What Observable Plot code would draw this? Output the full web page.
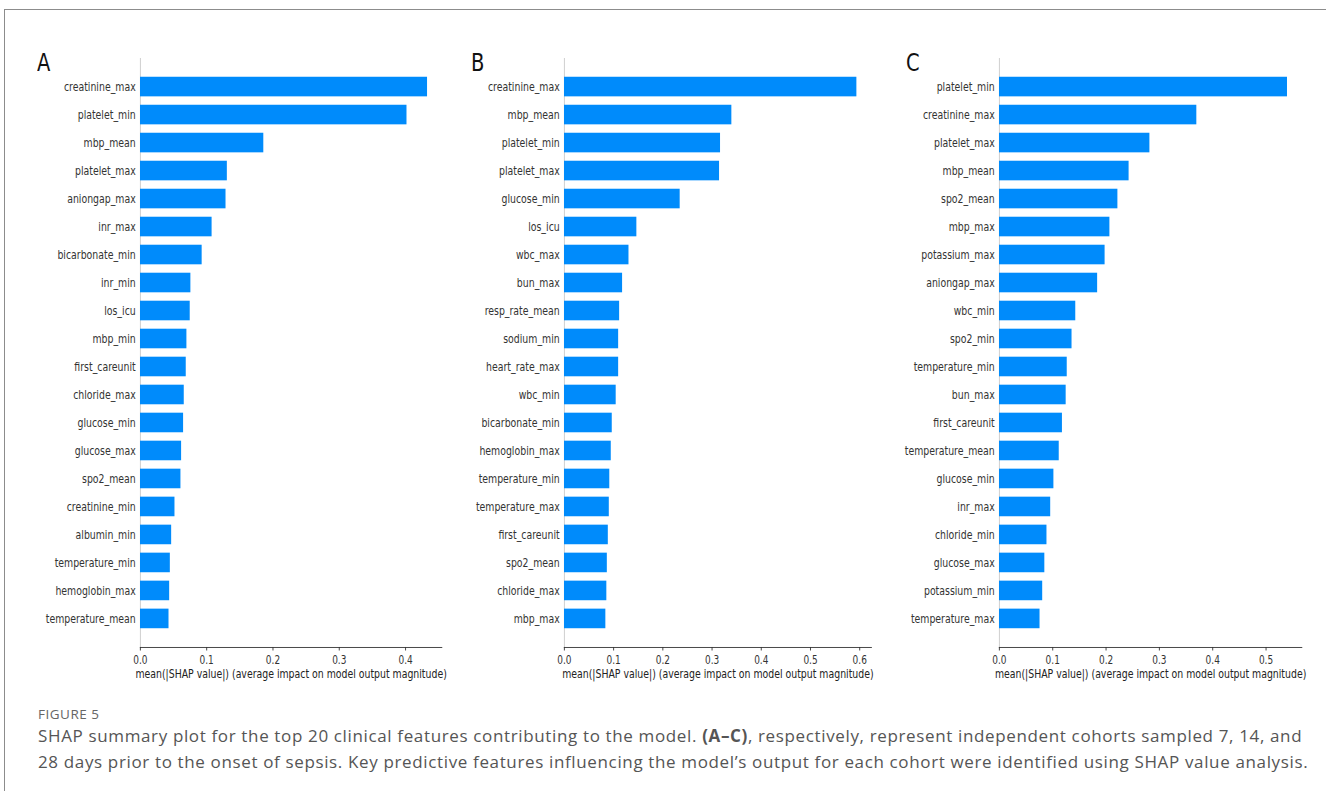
<!DOCTYPE html>
<html>
<head>
<meta charset="utf-8">
<script src="https://cdn.jsdelivr.net/npm/d3@7"></script>
<script src="https://cdn.jsdelivr.net/npm/@observablehq/plot@0.6"></script>
<style>
  html, body { margin: 0; padding: 0; background: #fff; }
  body { width: 1326px; height: 791px; position: relative; overflow: hidden; }
  #frame { position: absolute; left: 4px; top: 9px; width: 1340px; height: 800px;
           border: 1.5px solid #8c8c8c; box-sizing: border-box; }
  .panel { position: absolute; top: 40px; transform-origin: 0 0; }
  .panel svg { max-width: none; display: block; }
  .letter { position: absolute; top: 48px; font-family: "DejaVu Sans", sans-serif;
            font-size: 25px; color: #111; transform-origin: 0 0; }
  #fig { position: absolute; left: 38px; top: 705px; font-family: "Open Sans", sans-serif;
         font-size: 13.5px; letter-spacing: 0.5px; color: #666; }
  #caption { position: absolute; left: 38px; top: 723px; font-family: "Open Sans", sans-serif;
             font-size: 17px; letter-spacing: 0.64px; line-height: 26px; color: #555; white-space: nowrap; }
</style>
</head>
<body>
<div id="frame"></div>
<div id="charts"></div>
<div id="fig">FIGURE 5</div>
<div id="caption">SHAP summary plot for the top 20 clinical features contributing to the model. <b>(A–C)</b>, respectively, represent independent cohorts sampled 7, 14, and<br>28 days prior to the onset of sepsis. Key predictive features influencing the model’s output for each cohort were identified using SHAP value analysis.</div>
<script>
// Mean |SHAP| per feature, top 20 features for each cohort (7, 14, 28 days)
const featuresA = ["creatinine_max", "platelet_min", "mbp_mean", "platelet_max", "aniongap_max",
  "inr_max", "bicarbonate_min", "inr_min", "los_icu", "mbp_min", "first_careunit", "chloride_max",
  "glucose_min", "glucose_max", "spo2_mean", "creatinine_min", "albumin_min", "temperature_min",
  "hemoglobin_max", "temperature_mean"];
const valuesA = [0.433, 0.402, 0.186, 0.131, 0.129, 0.108, 0.093, 0.076, 0.075, 0.070, 0.069, 0.066,
  0.065, 0.062, 0.061, 0.052, 0.047, 0.045, 0.044, 0.043];

const featuresB = ["creatinine_max", "mbp_mean", "platelet_min", "platelet_max", "glucose_min",
  "los_icu", "wbc_max", "bun_max", "resp_rate_mean", "sodium_min", "heart_rate_max", "wbc_min",
  "bicarbonate_min", "hemoglobin_max", "temperature_min", "temperature_max", "first_careunit",
  "spo2_mean", "chloride_max", "mbp_max"];
const valuesB = [0.594, 0.340, 0.317, 0.315, 0.235, 0.147, 0.131, 0.118, 0.112, 0.110, 0.110, 0.105,
  0.097, 0.095, 0.092, 0.091, 0.089, 0.087, 0.086, 0.084];

const featuresC = ["platelet_min", "creatinine_max", "platelet_max", "mbp_mean", "spo2_mean",
  "mbp_max", "potassium_max", "aniongap_max", "wbc_min", "spo2_min", "temperature_min", "bun_max",
  "first_careunit", "temperature_mean", "glucose_min", "inr_max", "chloride_min", "glucose_max",
  "potassium_min", "temperature_max"];
const valuesC = [0.540, 0.370, 0.282, 0.243, 0.222, 0.207, 0.198, 0.184, 0.143, 0.136, 0.127, 0.125,
  0.118, 0.112, 0.102, 0.096, 0.089, 0.085, 0.081, 0.076];

const panelLetters = ["A", "B", "C"];
const xTitle = "mean(|SHAP value|) (average impact on model output magnitude)";

// The figure is drawn horizontally condensed; plots are laid out in unscaled units
const S = 0.78;
const LEFT = 135, RIGHT = 12;       // screen px beside the plot area
const H = 650, MT = 18, MB = 43;

const panels = [
  {names: featuresA, values: valuesA, x0: 140.3, x1: 441.7, letterX: 37},
  {names: featuresB, values: valuesB, x0: 564, x1: 871, letterX: 471},
  {names: featuresC, values: valuesC, x0: 999.3, x1: 1301.7, letterX: 906}
];

const host = document.getElementById("charts");

panels.forEach((p, i) => {
  const data = p.names.map((name, k) => ({name, value: p.values[k]}));
  const xmax = d3.max(p.values) * 1.05;
  const ticks = d3.range(0, Math.floor(xmax * 10 + 1e-9) + 1).map(t => t / 10);
  const widthU = (p.x1 - p.x0 + LEFT + RIGHT) / S;

  const chart = Plot.plot({
    width: widthU,
    height: H,
    marginTop: MT,
    marginBottom: MB,
    marginLeft: LEFT / S,
    marginRight: RIGHT / S,
    style: {fontFamily: "DejaVu Sans, sans-serif", fontSize: "12px", color: "#333", background: "transparent"},
    x: {domain: [0, xmax]},
    y: {domain: p.names, paddingInner: 0.3, paddingOuter: 0.67, round: false},
    marks: [
      Plot.ruleX([0], {stroke: "#cccccc", strokeWidth: 1.2}),
      Plot.barX(data, {x: "value", y: "name", fill: "#008bfb"}),
      Plot.frame({anchor: "bottom", stroke: "#333", strokeWidth: 1}),
      Plot.axisX({ticks, tickFormat: d3.format(".1f"), tickSize: 3.5, tickPadding: 5,
                  fontSize: 11.5, label: null, stroke: "#333", fill: "#333"}),
      Plot.axisY({tickSize: 0, tickPadding: 6, fontSize: 12, label: null, fill: "#333"}),
      Plot.text([xTitle], {frameAnchor: "bottom", dy: 31, fontSize: 12, fill: "#222"})
    ]
  });

  const wrap = document.createElement("div");
  wrap.className = "panel";
  wrap.style.left = (p.x0 - LEFT) + "px";
  wrap.style.width = widthU + "px";
  wrap.style.transform = `scaleX(${S})`;
  wrap.appendChild(chart);
  host.appendChild(wrap);

  const letter = document.createElement("div");
  letter.className = "letter";
  letter.style.left = p.letterX + "px";
  letter.style.transform = `scaleX(${S})`;
  letter.textContent = panelLetters[i];
  host.appendChild(letter);
});
</script>
</body>
</html>
